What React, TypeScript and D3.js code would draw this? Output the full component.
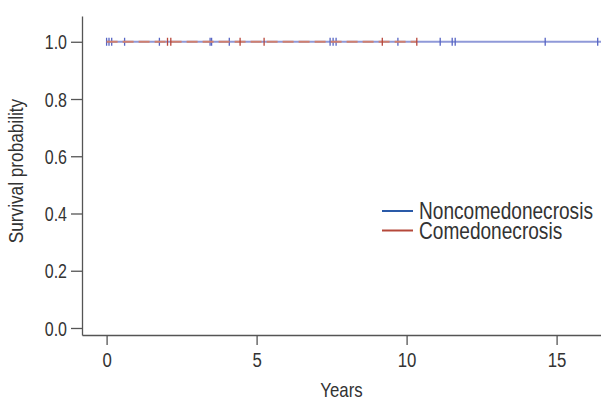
import React, { useRef, useEffect } from 'react';
import * as d3 from 'd3';

const nonComedoTimes = [0.0, 0.08, 0.17, 0.6, 1.76, 3.45, 3.5, 4.09, 7.45, 7.55, 7.65, 9.71, 11.12, 11.52, 11.62, 14.62, 16.37, 16.6];
const comedoTimes = [2.03, 2.14, 4.45, 5.25, 9.19, 10.34];
const survivalValue = 1.0;

const xTicks = [0, 5, 10, 15];
const yTicks = [0, 0.2, 0.4, 0.6, 0.8, 1.0];
const seriesNames = ['Noncomedonecrosis', 'Comedonecrosis'];

const W = 601;
const H = 403;
const FONT = "'Liberation Sans', Arial, sans-serif";
const SX = 0.82; // narrow the glyphs like a condensed face

const App = () => {
    const svgRef = useRef<SVGSVGElement>(null);

    useEffect(() => {
        const svg = d3.select(svgRef.current);
        svg.selectAll('*').remove();

        const x = d3.scaleLinear().domain([-0.82, 16.48]).range([82, 601]);
        const y = d3.scaleLinear().domain([-0.0245, 1.09]).range([335, 16]);

        const clip = svg.append('clipPath').attr('id', 'plotclip');
        clip.append('rect').attr('x', 82).attr('y', 0).attr('width', 601 - 82).attr('height', 335);

        // axes
        const xAxis = svg.append('g')
            .attr('transform', 'translate(0,335)')
            .call(d3.axisBottom(x).tickValues(xTicks).tickSize(10).tickSizeOuter(0).tickPadding(7).tickFormat(d3.format('d')));
        const yAxis = svg.append('g')
            .attr('transform', 'translate(82,0)')
            .call(d3.axisLeft(y).tickValues(yTicks).tickSize(11).tickSizeOuter(0).tickPadding(4).tickFormat(d3.format('.1f')));

        [xAxis, yAxis].forEach(g => {
            g.selectAll('path, line').attr('stroke', '#555').attr('stroke-width', 1.3);
            g.selectAll('text')
                .attr('fill', '#333')
                .attr('font-family', FONT)
                .attr('font-size', 19.5)
                .attr('transform', `scale(${SX},1)`);
        });
        xAxis.selectAll('text').attr('font-size', 20.5);
        yAxis.selectAll('text').attr('dy', '0.36em').attr('x', -15 / SX);

        svg.append('text')
            .attr('transform', `translate(${(82 + 601) / 2},397) scale(${SX},1)`)
            .attr('text-anchor', 'middle')
            .attr('font-family', FONT)
            .attr('font-size', 20.5)
            .attr('fill', '#333')
            .text('Years');

        svg.append('text')
            .attr('transform', `translate(23,171) rotate(-90) scale(${SX},1)`)
            .attr('text-anchor', 'middle')
            .attr('font-family', FONT)
            .attr('font-size', 21)
            .attr('fill', '#333')
            .text('Survival probability');

        const plot = svg.append('g').attr('clip-path', 'url(#plotclip)');

        const drawSeries = (times: number[], line: string, tick: string, dash?: string) => {
            const ext = d3.extent(times) as [number, number];
            plot.append('line')
                .attr('x1', x(0))
                .attr('x2', x(ext[1]))
                .attr('y1', y(survivalValue))
                .attr('y2', y(survivalValue))
                .attr('stroke', line)
                .attr('stroke-width', 2)
                .attr('stroke-dasharray', dash || null);
            plot.selectAll(null)
                .data(times)
                .enter().append('line')
                .attr('x1', d => x(d))
                .attr('x2', d => x(d))
                .attr('y1', y(survivalValue) - 4)
                .attr('y2', y(survivalValue) + 4)
                .attr('stroke', tick)
                .attr('stroke-width', 1.3);
        };

        drawSeries(nonComedoTimes, '#8f99d8', '#5664c4');
        drawSeries(comedoTimes, '#d0806f', '#b8463a', '11,5');

        // legend
        const legendColors = ['#2a5aa8', '#b5483a'];
        const legend = svg.append('g').attr('transform', 'translate(382,211)');
        seriesNames.forEach((name, i) => {
            legend.append('line')
                .attr('x1', 0).attr('x2', 31)
                .attr('y1', i * 19.5).attr('y2', i * 19.5)
                .attr('stroke', legendColors[i])
                .attr('stroke-width', 2);
            legend.append('text')
                .attr('transform', `translate(37,${i * 19.5}) scale(${SX + 0.01},1)`)
                .attr('dy', '0.36em')
                .attr('font-family', FONT)
                .attr('font-size', 23)
                .attr('fill', '#333')
                .text(name);
        });
    }, []);

    return (
        <svg ref={svgRef} width={W} height={H} style={{ position: 'absolute', left: 0, top: 0, background: '#fff' }}></svg>
    );
};

export default App;
